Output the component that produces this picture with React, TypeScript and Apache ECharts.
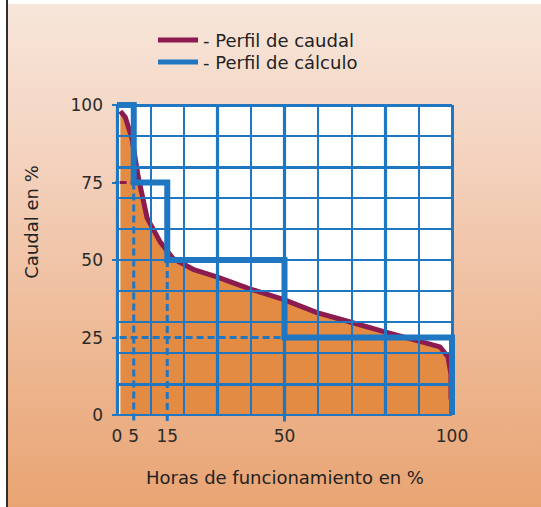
import React, { useEffect, useRef } from "react";
import * as echarts from "echarts";

// Flow profile (Perfil de caudal): [hours %, flow %]
const flowX = [1, 2.5, 4.5, 6.3, 9, 12.8, 16.7, 22.7, 30, 38.8, 49.6, 59.7, 69.6, 79.4, 89.6, 96.4, 98.8, 99.7, 99.7];
const flowY = [98, 96, 89, 77, 63.5, 56, 50.5, 47, 44.5, 41, 37.3, 33, 30, 27, 24, 22, 18.7, 13, 5];

// Calculation profile (Perfil de cálculo): step line
const calcX = [0, 5, 5, 15, 15, 50, 50, 100, 100];
const calcY = [100, 100, 75, 75, 50, 50, 25, 25, 0];

// Reference dashed lines [x1, y1, x2, y2]
const dashBlue = [
  [5, 75, 5, -2.5],
  [15, 50, 15, -2.5],
  [50, 25, 50, -2.5],
  [-2.5, 25, 50, 25],
];
const dashMaroon = [[-2.5, 75, 5, 75]];

// Grid lines
const gridX = [10, 20, 40, 60, 70, 90];
const gridY = [20, 30, 40, 50, 60, 70, 90];
const thickX = [30, 50, 80];
const thickY = [10, 80];
const borderX = [0, 100];
const borderY = [0, 100];

const xTickLabels = [0, 5, 15, 50, 100];
const yTickLabels = [0, 25, 50, 75, 100];

const BLUE = "#1f77c2";
const MAROON = "#8c1b50";
const ORANGE = "#e38b42";
const FONT = "DejaVu Sans";

export default function App() {
  const ref = useRef<HTMLDivElement>(null);
  useEffect(() => {
    if (!ref.current) return;
    const chart = echarts.init(ref.current, null, { renderer: "svg" });
    const flowData = flowX.map((x, i) => [x, flowY[i]]);
    const calcData = calcX.map((x, i) => [x, calcY[i]]);
    const vLine = (x: number, w: number) => [
      { coord: [x, 0], lineStyle: { width: w } },
      { coord: [x, 100] },
    ];
    const hLine = (y: number, w: number) => [
      { coord: [0, y], lineStyle: { width: w } },
      { coord: [100, y] },
    ];
    const gridLines = [
      ...gridX.map((x) => vLine(x, 2)),
      ...gridY.map((y) => hLine(y, 2)),
      ...thickX.map((x) => vLine(x, 3.2)),
      ...thickY.map((y) => hLine(y, 3.2)),
      ...borderX.map((x) => vLine(x, x === 0 ? 3.2 : 3)),
      ...borderY.map((y) => hLine(y, y === 0 ? 2.2 : 3)),
    ];
    const dashSeries = (segs: number[][], color: string) =>
      segs.map((s) => ({
        type: "line",
        data: [
          [s[0], s[1]],
          [s[2], s[3]],
        ],
        showSymbol: false,
        symbol: "none",
        clip: false,
        silent: true,
        z: 4,
        lineStyle: { color, width: 3, type: [7, 4] },
      }));

    chart.setOption({
      animation: false,
      grid: {
        left: 117,
        right: 89,
        top: 105,
        bottom: 92,
        show: true,
        backgroundColor: "#ffffff",
        borderWidth: 0,
      },
      legend: {
        orient: "vertical",
        left: 153,
        top: 26,
        itemGap: 4,
        itemWidth: 40,
        itemHeight: 5,
        icon: "rect",
        selectedMode: false,
        data: ["Perfil de caudal", "Perfil de cálculo"],
        formatter: (n: string) => "- " + n,
        textStyle: { fontFamily: FONT, fontSize: 18, color: "#222" },
      },
      xAxis: {
        type: "value",
        min: 0,
        max: 100,
        interval: 5,
        axisLine: { show: false },
        axisTick: { show: false },
        splitLine: { show: false },
        axisLabel: {
          margin: 12,
          fontFamily: FONT,
          fontSize: 17,
          color: "#2a2a2a",
          formatter: (v: number) => (xTickLabels.includes(v) ? String(v) : ""),
        },
      },
      yAxis: {
        type: "value",
        min: 0,
        max: 100,
        interval: 25,
        axisLine: { show: false },
        axisTick: { show: true, length: 5, lineStyle: { color: BLUE, width: 2 } },
        splitLine: { show: false },
        axisLabel: {
          margin: 14,
          fontFamily: FONT,
          fontSize: 17,
          color: "#2a2a2a",
          formatter: (v: number) => (yTickLabels.includes(v) ? String(v) : ""),
        },
      },
      graphic: [
        {
          type: "text",
          x: 31,
          y: 222,
          rotation: Math.PI / 2,
          style: {
            text: "Caudal en %",
            fontFamily: FONT,
            fontSize: 18,
            fill: "#222",
            textAlign: "center",
            textVerticalAlign: "middle",
          },
        },
        {
          type: "text",
          x: 285,
          y: 477,
          style: {
            text: "Horas de funcionamiento en %",
            fontFamily: FONT,
            fontSize: 18,
            fill: "#222",
            textAlign: "center",
            textVerticalAlign: "middle",
          },
        },
      ],
      series: [
        {
          type: "line",
          name: "area",
          data: flowData,
          showSymbol: false,
          symbol: "none",
          z: 1,
          silent: true,
          lineStyle: { width: 0, opacity: 0 },
          areaStyle: { color: ORANGE, opacity: 1, origin: "start" },
        },
        {
          type: "line",
          name: "grid",
          data: [],
          z: 2,
          silent: true,
          markLine: {
            silent: true,
            symbol: "none",
            label: { show: false },
            lineStyle: { color: BLUE, type: "solid", width: 2 },
            data: gridLines,
          },
        },
        {
          type: "line",
          name: "Perfil de caudal",
          data: flowData,
          showSymbol: false,
          symbol: "none",
          z: 3,
          lineStyle: { color: MAROON, width: 5 },
          itemStyle: { color: MAROON },
        },
        ...dashSeries(dashBlue, BLUE),
        ...dashSeries(dashMaroon, MAROON),
        {
          type: "line",
          name: "Perfil de cálculo",
          data: calcData,
          showSymbol: false,
          symbol: "none",
          clip: false,
          z: 5,
          lineStyle: { color: BLUE, width: 6, join: "miter" },
          itemStyle: { color: BLUE },
        },
      ],
    });
    return () => chart.dispose();
  }, []);
  return (
    <div
      ref={ref}
      style={{
        position: "absolute",
        left: 0,
        top: 0,
        width: 541,
        height: 507,
        background:
          "linear-gradient(to right, #ffffff 0px, #ffffff 6px, #2f2f2f 6px, #2f2f2f 8px, rgba(0,0,0,0) 8px), linear-gradient(to bottom, #ffffff 0px, #ffffff 4px, #f7e6da 4px, #f4d3c0 30%, #eebb98 65%, #e9a473 100%)",
      }}
    />
  );
}
